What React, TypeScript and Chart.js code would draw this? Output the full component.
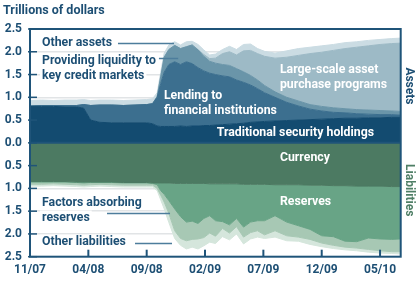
import React, { useEffect, useRef } from "react";
import { Chart, registerables } from "chart.js";

Chart.register(...registerables);

// x positions in months since November 2007
const months = [0, 1, 2, 3, 4, 4.6, 5.2, 6, 7, 8, 9, 10, 10.5, 10.9, 11.2, 11.5, 11.9, 12.4, 12.9, 13.4, 13.9, 14.4, 14.9, 15.4, 15.9, 16.5, 17.1, 17.7, 18.3, 18.9, 19.5, 20.1, 21, 22, 23, 24, 25, 26, 27, 28, 29, 30, 31, 31.8];

// Assets (trillions of dollars)
const traditional = [0.8, 0.8, 0.8, 0.79, 0.79, 0.76, 0.5, 0.45, 0.44, 0.44, 0.44, 0.44, 0.42, 0.37, 0.36, 0.36, 0.36, 0.36, 0.37, 0.36, 0.37, 0.37, 0.38, 0.38, 0.39, 0.4, 0.41, 0.42, 0.43, 0.45, 0.46, 0.47, 0.48, 0.49, 0.5, 0.51, 0.52, 0.53, 0.54, 0.54, 0.55, 0.55, 0.56, 0.56];
const lending = [0.01, 0.02, 0.02, 0.03, 0.03, 0.08, 0.32, 0.38, 0.39, 0.38, 0.39, 0.4, 0.44, 0.63, 0.94, 1.19, 1.36, 1.42, 1.35, 1.42, 1.37, 1.28, 1.2, 1.15, 1.11, 1.07, 1.04, 0.96, 0.9, 0.82, 0.73, 0.63, 0.52, 0.4, 0.31, 0.23, 0.18, 0.14, 0.12, 0.1, 0.08, 0.07, 0.06, 0.05];
const liquidity = [0, 0, 0, 0, 0, 0, 0, 0, 0, 0, 0, 0, 0, 0.02, 0.15, 0.33, 0.33, 0.36, 0.35, 0.33, 0.41, 0.39, 0.32, 0.26, 0.25, 0.25, 0.25, 0.25, 0.23, 0.21, 0.19, 0.16, 0.12, 0.11, 0.11, 0.1, 0.1, 0.1, 0.09, 0.09, 0.09, 0.09, 0.08, 0.08];
const lsap = [0, 0, 0, 0, 0, 0, 0, 0, 0, 0, 0, 0, 0, 0, 0, 0, 0, 0, 0, 0, 0, 0.01, 0.04, 0.06, 0.11, 0.24, 0.3, 0.3, 0.46, 0.55, 0.58, 0.64, 0.74, 0.88, 1.0, 1.12, 1.19, 1.26, 1.32, 1.37, 1.41, 1.45, 1.48, 1.5];
const otherAssets = [0.12, 0.12, 0.11, 0.12, 0.12, 0.11, 0.11, 0.11, 0.11, 0.11, 0.11, 0.11, 0.11, 0.08, 0.1, 0.09, 0.1, 0.08, 0.08, 0.11, 0.08, 0.11, 0.1, 0.08, 0.09, 0.09, 0.12, 0.12, 0.14, 0.14, 0.11, 0.11, 0.11, 0.14, 0.15, 0.14, 0.14, 0.13, 0.13, 0.12, 0.12, 0.11, 0.11, 0.11];

// Liabilities (trillions of dollars, plotted downward)
const currency = [0.85, 0.85, 0.85, 0.85, 0.86, 0.86, 0.86, 0.86, 0.86, 0.87, 0.87, 0.87, 0.88, 0.88, 0.88, 0.88, 0.88, 0.89, 0.89, 0.89, 0.89, 0.89, 0.89, 0.9, 0.9, 0.9, 0.9, 0.9, 0.91, 0.91, 0.91, 0.91, 0.92, 0.92, 0.92, 0.93, 0.93, 0.94, 0.94, 0.95, 0.95, 0.95, 0.96, 0.96];
const reserves = [0.01, 0.01, 0.01, 0.01, 0.01, 0.02, 0.01, 0.01, 0.01, 0.01, 0.01, 0.01, 0.01, 0.04, 0.17, 0.25, 0.39, 0.56, 0.73, 0.85, 0.83, 0.88, 0.77, 0.7, 0.81, 0.83, 0.9, 0.76, 0.94, 0.83, 0.8, 0.8, 0.68, 0.82, 0.9, 0.97, 1.11, 1.12, 1.22, 1.22, 1.14, 1.16, 1.16, 1.15];
const factors = [0.05, 0.05, 0.04, 0.05, 0.05, 0.05, 0.05, 0.04, 0.05, 0.05, 0.05, 0.05, 0.04, 0.08, 0.1, 0.17, 0.28, 0.48, 0.48, 0.41, 0.4, 0.34, 0.42, 0.38, 0.34, 0.15, 0.18, 0.18, 0.22, 0.23, 0.22, 0.31, 0.33, 0.3, 0.25, 0.22, 0.16, 0.19, 0.13, 0.14, 0.25, 0.26, 0.27, 0.28];
const otherLiab = [0.04, 0.04, 0.04, 0.04, 0.04, 0.04, 0.04, 0.04, 0.04, 0.04, 0.04, 0.04, 0.04, 0.05, 0.1, 0.15, 0.2, 0.17, 0.15, 0.18, 0.17, 0.22, 0.18, 0.2, 0.16, 0.18, 0.15, 0.16, 0.15, 0.14, 0.14, 0.08, 0.14, 0.11, 0.09, 0.11, 0.08, 0.07, 0.06, 0.06, 0.06, 0.05, 0.04, 0.05];

// Axis ticks
const tickMonths = [0, 5, 10, 15, 20, 25, 30];
const tickLabels = ["11/07", "04/08", "09/08", "02/09", "07/09", "12/09", "05/10"];
const yTicks = [-2.5, -2, -1.5, -1, -0.5, 0, 0.5, 1, 1.5, 2, 2.5];

const NAVY = "#1d4f74";
const FRAME = "#1f5479";
const GREEN_TXT = "#4f7f66";
const FONT = "Roboto, 'Liberation Sans', sans-serif";

type Note = { lines: string[]; m: number; v: number; color: string; bg: boolean };
const notes: Note[] = [
  { lines: ["Other assets"], m: 1.03, v: 2.2, color: NAVY, bg: true },
  { lines: ["Providing liquidity to", "key credit markets"], m: 1.03, v: 1.795, color: NAVY, bg: true },
  { lines: ["Lending to", "financial institutions"], m: 11.48, v: 1.02, color: "#ffffff", bg: false },
  { lines: ["Large-scale asset", "purchase programs"], m: 21.42, v: 1.6, color: "#ffffff", bg: false },
  { lines: ["Traditional security holdings"], m: 16.0, v: 0.21, color: "#ffffff", bg: false },
  { lines: ["Currency"], m: 21.42, v: -0.34, color: "#ffffff", bg: false },
  { lines: ["Reserves"], m: 21.42, v: -1.29, color: "#ffffff", bg: false },
  { lines: ["Factors absorbing", "reserves"], m: 1.03, v: -1.31, color: NAVY, bg: true },
  { lines: ["Other liabilities"], m: 1.03, v: -2.17, color: NAVY, bg: true },
];
const leaders = [
  { m0: 7.54, m1: 12.34, v: 2.2 },
  { m0: 11.05, m1: 12.7, v: 1.86 },
  { m0: 6.6, m1: 12.0, v: -1.55 },
  { m0: 9.0, m1: 12.17, v: -2.21 },
];

const overlay = {
  id: "overlay",
  afterDatasetsDraw(chart: any) {
    const { ctx, chartArea: a, scales } = chart;
    const x = scales.x;
    const y = scales.y;
    ctx.save();

    ctx.font = `bold 12.3px ${FONT}`;
    ctx.textBaseline = "middle";
    ctx.textAlign = "left";
    for (const n of notes) {
      const px = x.getPixelForValue(n.m);
      let py = y.getPixelForValue(n.v);
      for (const s of n.lines) {
        const w = ctx.measureText(s).width;
        if (n.bg) {
          ctx.fillStyle = "#ffffff";
          ctx.fillRect(px - 2, py - 7, w + 4, 14);
        }
        ctx.fillStyle = n.color;
        ctx.fillText(s, px, py);
        py += 15;
      }
    }

    ctx.strokeStyle = "#4d7d9c";
    ctx.lineWidth = 1.5;
    for (const l of leaders) {
      const py = Math.round(y.getPixelForValue(l.v)) + 0.5;
      ctx.beginPath();
      ctx.moveTo(x.getPixelForValue(l.m0), py);
      ctx.lineTo(x.getPixelForValue(l.m1), py);
      ctx.stroke();
    }

    // zero line
    ctx.strokeStyle = FRAME;
    ctx.lineWidth = 2;
    const y0 = y.getPixelForValue(0);
    ctx.beginPath();
    ctx.moveTo(a.left, y0);
    ctx.lineTo(a.right, y0);
    ctx.stroke();

    // frame
    ctx.lineWidth = 2;
    ctx.strokeRect(a.left, a.top, a.right - a.left, a.bottom - a.top);

    // y tick marks
    ctx.lineWidth = 1.5;
    for (const v of yTicks) {
      const py = y.getPixelForValue(v);
      ctx.beginPath();
      ctx.moveTo(a.left - 2, py);
      ctx.lineTo(a.left + 7, py);
      ctx.stroke();
    }
    // x tick marks
    ctx.lineWidth = 2;
    for (const m of tickMonths) {
      const px = x.getPixelForValue(m);
      ctx.beginPath();
      ctx.moveTo(px, a.bottom);
      ctx.lineTo(px, a.bottom - 7);
      ctx.stroke();
    }

    // side labels
    ctx.font = `bold 12px ${FONT}`;
    ctx.textAlign = "center";
    ctx.textBaseline = "middle";
    const side = (s: string, v: number, color: string) => {
      ctx.save();
      ctx.translate(a.right + 8.5, y.getPixelForValue(v));
      ctx.rotate(Math.PI / 2);
      ctx.fillStyle = color;
      ctx.fillText(s, 0, 0);
      ctx.restore();
    };
    side("Assets", 1.25, NAVY);
    side("Liabilities", -1.04, GREEN_TXT);

    // title
    ctx.textAlign = "left";
    ctx.fillStyle = NAVY;
    ctx.font = `bold 12.5px ${FONT}`;
    ctx.fillText("Trillions of dollars", 3, 11);
    ctx.restore();
  },
};

export default function App() {
  const ref = useRef<HTMLCanvasElement>(null);
  useEffect(() => {
    document.body.style.margin = "0";
    if (!ref.current) return;
    const pts = (arr: number[], sign: number) => arr.map((v, i) => ({ x: months[i], y: sign * v }));
    const ds = (label: string, arr: number[], color: string, sign: number, stack: string, fill: any) => ({
      label,
      data: pts(arr, sign),
      backgroundColor: color,
      borderColor: color,
      borderWidth: 1,
      pointRadius: 0,
      tension: 0,
      fill,
      stack,
    });
    const chart = new Chart(ref.current, {
      type: "line",
      data: {
        datasets: [
          ds("Traditional security holdings", traditional, "#134b70", 1, "assets", "origin"),
          ds("Lending to financial institutions", lending, "#3c6f8f", 1, "assets", "-1"),
          ds("Providing liquidity to key credit markets", liquidity, "#6a95a9", 1, "assets", "-1"),
          ds("Large-scale asset purchase programs", lsap, "#9dbac6", 1, "assets", "-1"),
          ds("Other assets", otherAssets, "#cbdce3", 1, "assets", "-1"),
          ds("Currency", currency, "#4c7a62", -1, "liab", "origin"),
          ds("Reserves", reserves, "#68a486", -1, "liab", "-1"),
          ds("Factors absorbing reserves", factors, "#a7c8b4", -1, "liab", "-1"),
          ds("Other liabilities", otherLiab, "#d5e6dc", -1, "liab", "-1"),
        ],
      },
      options: {
        responsive: false,
        animation: false,
        events: [],
        layout: { padding: { top: 29, right: 19.3, left: 0, bottom: 0 } },
        plugins: { legend: { display: false }, tooltip: { enabled: false }, title: { display: false } },
        scales: {
          x: {
            type: "linear",
            min: 0,
            max: 31.77,
            afterFit: (s: any) => {
              s.height = 25.3;
            },
            afterBuildTicks: (s: any) => {
              s.ticks = tickMonths.map((v) => ({ value: v }));
            },
            grid: { display: false, drawTicks: false },
            border: { display: false },
            ticks: {
              autoSkip: false,
              maxRotation: 0,
              padding: 6,
              color: NAVY,
              font: { family: FONT, size: 12, weight: "bold" },
              callback: (v: any) => tickLabels[tickMonths.indexOf(Number(v))] ?? "",
            },
          },
          y: {
            stacked: true,
            min: -2.5,
            max: 2.5,
            afterFit: (s: any) => {
              s.width = 30;
            },
            afterBuildTicks: (s: any) => {
              s.ticks = yTicks.map((v) => ({ value: v }));
            },
            border: { display: false },
            grid: {
              drawTicks: false,
              lineWidth: 1.5,
              color: (c: any) => {
                const v = c.tick ? c.tick.value : 0;
                if (Math.abs(v) < 1e-9 || Math.abs(Math.abs(v) - 2.5) < 1e-9) return "rgba(0,0,0,0)";
                return "#e1e4e6";
              },
            },
            ticks: {
              padding: 8,
              color: NAVY,
              font: { family: FONT, size: 12, weight: "bold" },
              callback: (v: any) => Math.abs(Number(v)).toFixed(1),
            },
          },
        },
      },
      plugins: [overlay],
    });
    return () => chart.destroy();
  }, []);
  return (
    <div style={{ width: 420, height: 282 }}>
      <canvas ref={ref} width={420} height={282} style={{ display: "block" }} />
    </div>
  );
}
